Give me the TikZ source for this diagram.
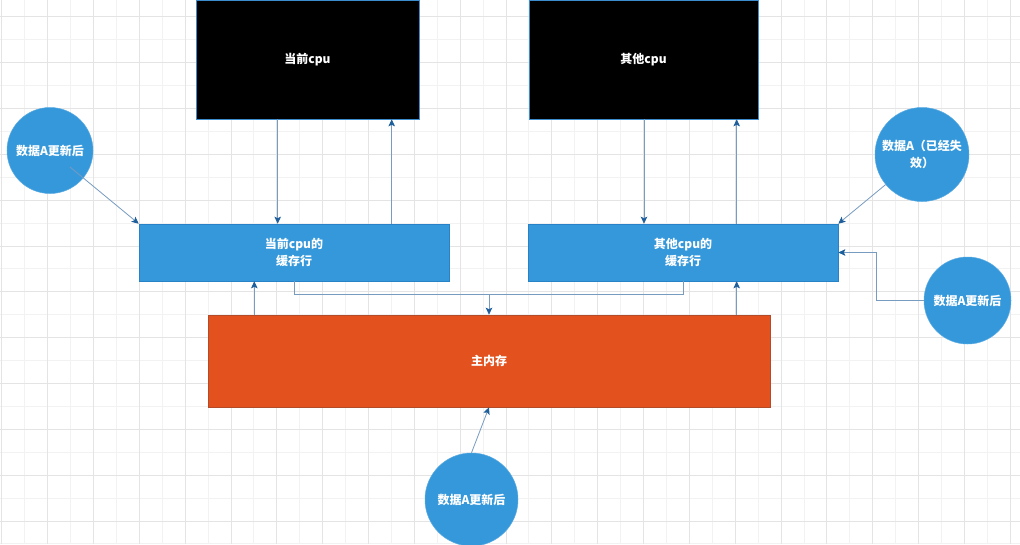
\documentclass[tikz,border=0pt]{standalone}
\usepackage{fontspec}
\setmainfont{Noto Sans CJK SC}
\usetikzlibrary{arrows.meta,calc}
\definecolor{gridminor}{RGB}{242,242,242}
\definecolor{gridmajor}{RGB}{228,228,228}
\definecolor{cacheblue}{RGB}{52,152,219}
\definecolor{cacheborder}{RGB}{40,130,200}
\definecolor{circborder}{RGB}{90,170,225}
\definecolor{memorange}{RGB}{226,81,30}
\definecolor{memborder}{RGB}{180,75,40}
\definecolor{cpuborder}{RGB}{60,140,205}
\definecolor{linec}{RGB}{120,155,192}
\definecolor{arrc}{RGB}{30,95,155}
\begin{document}
\begin{tikzpicture}[x=1pt,y=-1pt,
  every node/.style={font=\bfseries\fontsize{12}{17}\selectfont, text=white, align=center, inner sep=0pt},
  cpubox/.style={rectangle, fill=black, draw=cpuborder, line width=0.6pt, minimum height=119pt},
  cachebox/.style={rectangle, fill=cacheblue, draw=cacheborder, line width=0.6pt, minimum width=310pt, minimum height=57pt},
  membox/.style={rectangle, fill=memorange, draw=memborder, line width=0.6pt, minimum width=562pt, minimum height=92pt},
  circ/.style={circle, fill=cacheblue, draw=circborder, line width=0.5pt},
  wire/.style={draw=linec, line width=0.8pt},
  conn/.style={wire, -{Stealth[length=7pt,width=6.5pt,inset=1.5pt,color=arrc]}},
]
\useasboundingbox (0,0) rectangle (1020,544);
\fill[white] (0,0) rectangle (1020,544);
\begin{scope}
\clip (0,0) rectangle (1020,544);
% grid
\foreach \i in {1,3,...,43}{\draw[gridminor,line width=0.6pt] ({1.7+22.917*\i},0) -- ({1.7+22.917*\i},544);}
\foreach \j in {1,3,...,23}{\draw[gridminor,line width=0.6pt] (0,{16.7+22.917*\j}) -- (1020,{16.7+22.917*\j});}
\foreach \i in {0,2,...,44}{\draw[gridmajor,line width=0.6pt] ({1.7+22.917*\i},0) -- ({1.7+22.917*\i},544);}
\foreach \j in {0,2,...,22}{\draw[gridmajor,line width=0.6pt] (0,{16.7+22.917*\j}) -- (1020,{16.7+22.917*\j});}

% nodes
\node[cpubox, minimum width=223pt] (cpu1) at (307.5,59.5) {当前cpu};
\node[cpubox, minimum width=229pt] (cpu2) at (643.5,59.5) {其他cpu};
\node[cachebox] (cache1) at (294,252.5) {当前cpu的\\缓存行};
\node[cachebox] (cache2) at (683,252.5) {其他cpu的\\缓存行};
\node[membox] (mem) at (489,361) {主内存};
\node[circ, minimum size=86pt] (c1) at (50,150.5) {数据A更新后};
\node[circ, minimum size=94pt] (c2) at (922,154.5) {数据A（已经失\\效）};
\node[circ, minimum size=87pt] (c3) at (967.5,300.5) {数据A更新后};
\node[circ, minimum size=93pt] (c4) at (471.5,499.5) {数据A更新后};

% helper coordinates
\coordinate (a1) at ([xshift=-29.8pt]cpu1.south);
\coordinate (a2) at ([xshift=84.2pt]cpu1.south);
\coordinate (b1) at ([xshift=0.5pt]cpu2.south);
\coordinate (b2) at ([xshift=93.2pt]cpu2.south);
\coordinate (m1) at ([xshift=-234.7pt]mem.north);
\coordinate (m2) at ([xshift=247.7pt]mem.north);
\coordinate (j) at ([yshift=20pt]mem.north);

% cpu <-> cache
\draw[conn] (a1) -- (a1 |- cache1.north);
\draw[conn] (a2 |- cache1.north) -- (a2);
\draw[conn] (b1) -- (b1 |- cache2.north);
\draw[conn] (b2 |- cache2.north) -- (b2);
% memory -> caches
\draw[conn] (m1) -- (m1 |- cache1.south);
\draw[conn] (m2) -- (m2 |- cache2.south);
% caches -> memory
\draw[wire] (cache1.south) |- (j);
\draw[wire] (cache2.south) |- (j);
\draw[conn] (j) -- (mem.north);
% circles
\draw[conn] ($(c1.center)!0.225!(cache1.north west)$) -- (cache1.north west);
\draw[conn] (c2) -- (cache2.north east);
\draw[conn] (c3.west) -- ++(-47pt,0) |- (cache2.east);
\draw[conn] (c4.north) -- (mem.south);
\end{scope}
\end{tikzpicture}
\end{document}
